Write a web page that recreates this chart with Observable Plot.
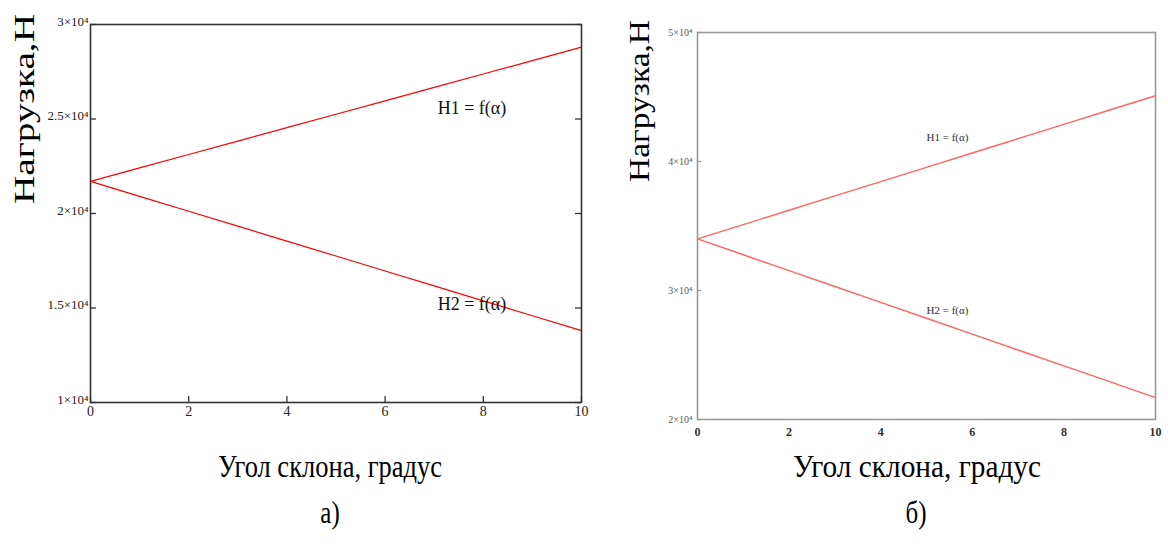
<!DOCTYPE html>
<html>
<head>
<meta charset="utf-8">
<script src="https://cdn.jsdelivr.net/npm/d3@7"></script>
<script src="https://cdn.jsdelivr.net/npm/@observablehq/plot@0.6"></script>
<style>
  html, body { margin: 0; padding: 0; background: #fff; }
  #wrap { position: relative; width: 1168px; height: 547px; overflow: hidden; background: #fff; font-family: "Liberation Serif", "Times New Roman", serif; }
  #left { position: absolute; left: 0; top: 0; }
  #right { position: absolute; left: 600px; top: 0; }
  #titles { position: absolute; left: 0; top: 0; pointer-events: none; }
</style>
</head>
<body>
<div id="wrap">
  <div id="left"></div>
  <div id="right"></div>
  <svg id="titles" width="1168" height="547"></svg>
</div>
<script>
// ---- data ----
const angles = [0, 1, 2, 3, 4, 5, 6, 7, 8, 9, 10];

// chart а)
const h1a = [21700, 22410, 23120, 23830, 24540, 25250, 25960, 26670, 27380, 28090, 28800];
const h2a = [21700, 20910, 20120, 19330, 18540, 17750, 16960, 16170, 15380, 14590, 13800];
const yTicksA = [10000, 15000, 20000, 25000, 30000];
const yTickLabelsA = ["1×10⁴", "1.5×10⁴", "2×10⁴", "2.5×10⁴", "3×10⁴"];

// chart б)
const h1b = [34000, 35110, 36220, 37330, 38440, 39550, 40660, 41770, 42880, 43990, 45100];
const h2b = [34000, 32770, 31540, 30310, 29080, 27850, 26620, 25390, 24160, 22930, 21700];
const yTicksB = [20000, 30000, 40000, 50000];
const yTickLabelsB = ["2×10⁴", "3×10⁴", "4×10⁴", "5×10⁴"];

const xTicks = [0, 2, 4, 6, 8, 10];

const seriesNames = ["H1 = f(α)", "H2 = f(α)"];
const labelPosA = [{x: 7.07, y: 25556}, {x: 7.07, y: 15185}];
const labelPosB = [{x: 5.0, y: 41860}, {x: 5.0, y: 28450}];

const yTitle = "Нагрузка,Н";
const xTitle = "Угол склона, градус";
const panelNames = ["а)", "б)"];

// ---- helpers ----
const rows = (vals) => angles.map((a, i) => ({x: a, y: vals[i]}));
const fmt = (ticks, labels) => (d) => labels[ticks.indexOf(d)] ?? "";
const labelRows = (pos) => pos.map((p, i) => ({...p, t: seriesNames[i]}));
const serif = '"Liberation Serif", "Times New Roman", serif';

// ---- chart а) ----
const WA = 600, HA = 440, mLA = 90, mRA = 19, mTA = 24, mBA = 38;
const iwA = WA - mLA - mRA, ihA = HA - mTA - mBA, tk = 6;
const left = Plot.plot({
  width: WA, height: HA,
  marginLeft: mLA, marginRight: mRA, marginTop: mTA, marginBottom: mBA,
  style: {fontFamily: serif, fontSize: "13px", color: "#222", background: "transparent"},
  x: {domain: [0, 10]},
  y: {domain: [10000, 30000]},
  marks: [
    Plot.axisX({ticks: xTicks, tickSize: 0, tickPadding: 4, tickFormat: d => String(d), label: null, fontSize: 14}),
    Plot.axisY({ticks: yTicksA, tickSize: 0, tickPadding: 2, tickFormat: fmt(yTicksA, yTickLabelsA), label: null, dy: -3, fontSize: 13}),
    // inward ticks
    Plot.tickX(xTicks, {x: d => d, insetTop: ihA - tk, stroke: "#333", strokeWidth: 1.3}),
    Plot.tickY(yTicksA, {y: d => d, insetRight: iwA - tk, stroke: "#333", strokeWidth: 1.3}),
    Plot.tickY(yTicksA, {y: d => d, insetLeft: iwA - tk, stroke: "#333", strokeWidth: 1.3}),
    Plot.line(rows(h1a), {x: "x", y: "y", stroke: "#ff0000", strokeWidth: 1.2}),
    Plot.line(rows(h2a), {x: "x", y: "y", stroke: "#ff0000", strokeWidth: 1.2}),
    Plot.text(labelRows(labelPosA), {x: "x", y: "y", text: "t", textAnchor: "start", fontSize: 18, fill: "#111"}),
    Plot.frame({stroke: "#333", strokeWidth: 1.6})
  ]
});
document.getElementById("left").appendChild(left);

// ---- chart б) ----
const WB = 568, HB = 440, mLB = 97, mRB = 13, mTB = 32, mBB = 21;
const iwB = WB - mLB - mRB;
const right = Plot.plot({
  width: WB, height: HB,
  marginLeft: mLB, marginRight: mRB, marginTop: mTB, marginBottom: mBB,
  style: {fontFamily: serif, fontSize: "10px", color: "#444", background: "transparent"},
  x: {domain: [0, 10]},
  y: {domain: [20000, 50000]},
  marks: [
    Plot.axisX({ticks: xTicks, tickSize: 0, tickPadding: 8, tickFormat: d => String(d), label: null, fontSize: 12, fontWeight: "bold", fill: "#333"}),
    Plot.axisY({ticks: yTicksB, tickSize: 0, tickPadding: 5, tickFormat: fmt(yTicksB, yTickLabelsB), label: null, fontSize: 10, fill: "#555"}),
    Plot.tickY(yTicksB, {y: d => d, insetRight: iwB - 4, stroke: "#999", strokeWidth: 1.2}),
    Plot.line(rows(h1b), {x: "x", y: "y", stroke: "#ff4a4a", strokeWidth: 1.4, strokeOpacity: 0.85}),
    Plot.line(rows(h2b), {x: "x", y: "y", stroke: "#ff4a4a", strokeWidth: 1.4, strokeOpacity: 0.85}),
    Plot.text(labelRows(labelPosB), {x: "x", y: "y", text: "t", textAnchor: "start", fontSize: 11, fill: "#333"}),
    Plot.frame({stroke: "#999", strokeWidth: 1.6})
  ]
});
document.getElementById("right").appendChild(right);

// ---- titles ----
const svg = d3.select("#titles");
[{x: 34, y: 109, len: 190}, {x: 649, y: 101, len: 162}].forEach(p => {
  svg.append("text")
    .attr("transform", `translate(${p.x},${p.y}) rotate(-90)`)
    .attr("text-anchor", "middle")
    .attr("font-family", serif)
    .attr("font-size", 30)
    .attr("fill", "#000")
    .attr("textLength", p.len)
    .attr("lengthAdjust", "spacingAndGlyphs")
    .text(yTitle);
});
[{x: 330, len: 224}, {x: 917, len: 248}].forEach(p => {
  svg.append("text")
    .attr("transform", `translate(${p.x},477) scale(1,1.3)`)
    .attr("text-anchor", "middle")
    .attr("font-family", serif)
    .attr("font-size", 25)
    .attr("fill", "#000")
    .attr("textLength", p.len)
    .attr("lengthAdjust", "spacingAndGlyphs")
    .text(xTitle);
});
[{x: 330}, {x: 916}].forEach((p, i) => {
  svg.append("text")
    .attr("transform", `translate(${p.x},523) scale(1,1.3)`)
    .attr("text-anchor", "middle")
    .attr("font-family", serif)
    .attr("font-size", 25)
    .attr("fill", "#000")
    .text(panelNames[i]);
});
</script>
</body>
</html>
